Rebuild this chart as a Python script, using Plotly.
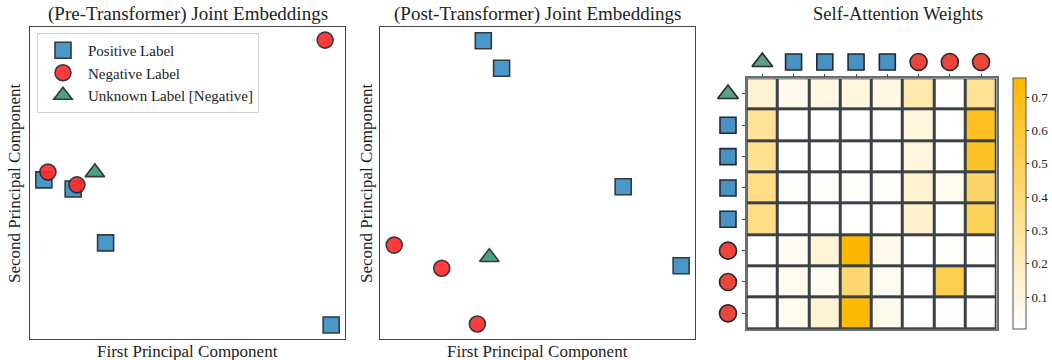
import plotly.graph_objects as go

# ---------------- data ----------------
# Panel 1: pre-transformer embeddings (PC1, PC2 in arbitrary units)
pre_pos_x = [4.4, 13.7, 24.0, 95.6]
pre_pos_y = [51.0, 48.1, 30.8, 4.5]
pre_neg_x = [5.7, 14.9, 93.7]
pre_neg_y = [53.5, 49.4, 95.8]
pre_unk_x = [20.6]
pre_unk_y = [53.4]

# Panel 2: post-transformer embeddings
post_pos_x = [32.8, 38.6, 77.2, 95.6]
post_pos_y = [95.6, 86.8, 48.8, 23.5]
post_neg_x = [4.5, 19.6, 30.9]
post_neg_y = [30.1, 22.7, 4.8]
post_unk_x = [34.7]
post_unk_y = [26.2]

# Panel 3: self-attention weights (rows: query token, cols: key token)
token_types = ["unk", "pos", "pos", "pos", "pos", "neg", "neg", "neg"]
attn = [
    [0.13, 0.06, 0.08, 0.10, 0.08, 0.24, 0.01, 0.32],
    [0.31, 0.004, 0.004, 0.004, 0.004, 0.10, 0.004, 0.66],
    [0.33, 0.004, 0.004, 0.004, 0.004, 0.10, 0.004, 0.64],
    [0.36, 0.02, 0.02, 0.02, 0.02, 0.14, 0.05, 0.44],
    [0.36, 0.004, 0.004, 0.004, 0.004, 0.15, 0.004, 0.50],
    [0.004, 0.04, 0.12, 0.757, 0.06, 0.004, 0.02, 0.01],
    [0.01, 0.05, 0.04, 0.42, 0.04, 0.004, 0.52, 0.004],
    [0.004, 0.05, 0.13, 0.74, 0.06, 0.004, 0.01, 0.01],
]
cbar_ticks = [0.1, 0.2, 0.3, 0.4, 0.5, 0.6, 0.7]

# ---------------- style ----------------
W, H = 1052, 360
FONT = "Liberation Serif"
EDGE = "#23292d"
C_POS, C_NEG, C_UNK = "#3a90c6", "#ff2b2b", "#3c9a7b"
H_POS, H_NEG, H_UNK = "#4a92c4", "#ec463b", "#5a9f86"

def px(x):
    return x / W

def py(y):
    return 1 - y / H

fig = go.Figure()

def add_points(xs, ys, symbol, color, size, name, axis, legend):
    fig.add_trace(go.Scatter(
        x=xs, y=ys, mode="markers", name=name, showlegend=legend,
        xaxis=axis[0], yaxis=axis[1],
        marker=dict(symbol=symbol, size=size, color=color, opacity=0.92,
                    line=dict(color=EDGE, width=1.6)),
        hoverinfo="skip", cliponaxis=False,
    ))

add_points(pre_pos_x, pre_pos_y, "square", C_POS, 16, "Positive Label", ("x", "y"), True)
add_points(pre_neg_x, pre_neg_y, "circle", C_NEG, 16, "Negative Label", ("x", "y"), True)
add_points(pre_unk_x, pre_unk_y, "triangle-up", C_UNK, 17, "Unknown Label [Negative]", ("x", "y"), True)

add_points(post_pos_x, post_pos_y, "square", C_POS, 16, "Positive Label", ("x2", "y2"), False)
add_points(post_neg_x, post_neg_y, "circle", C_NEG, 16, "Negative Label", ("x2", "y2"), False)
add_points(post_unk_x, post_unk_y, "triangle-up", C_UNK, 17, "Unknown Label [Negative]", ("x2", "y2"), False)

# heatmap
n = len(token_types)
idx = list(range(n))
fig.add_trace(go.Heatmap(
    z=attn, x=idx, y=idx, xaxis="x3", yaxis="y3",
    colorscale=[[0, "#ffffff"], [1, "#fcb800"]],
    xgap=3, ygap=3, showscale=True, hoverinfo="skip",
    colorbar=dict(
        x=px(1013), xanchor="left", xpad=0, ypad=0,
        y=py(329), yanchor="bottom",
        len=(329 - 78) / H, lenmode="fraction", thickness=13,
        outlinecolor="#555", outlinewidth=1,
        tickvals=cbar_ticks, ticks="outside", ticklen=3, tickcolor="#333",
        tickfont=dict(family=FONT, size=13, color="#222"),
    ),
))

# token icons: top strip (x4/y4) and left strip (x5/y5)
sym = {"pos": ("square", H_POS, 16), "neg": ("circle", H_NEG, 17), "unk": ("triangle-up", H_UNK, 18)}
for t in ["unk", "pos", "neg"]:
    ids = [i for i, tt in enumerate(token_types) if tt == t]
    s, c, sz = sym[t]
    mk = dict(symbol=s, size=sz, color=c, line=dict(color=EDGE, width=1.6))
    fig.add_trace(go.Scatter(x=ids, y=[0.5] * len(ids), mode="markers", xaxis="x4", yaxis="y4",
                             marker=mk, showlegend=False, cliponaxis=False, hoverinfo="skip"))
    fig.add_trace(go.Scatter(x=[0.5] * len(ids), y=ids, mode="markers", xaxis="x5", yaxis="y5",
                             marker=mk, showlegend=False, cliponaxis=False, hoverinfo="skip"))

frame = dict(showline=True, mirror=True, linecolor="#444", linewidth=1, showgrid=False,
             zeroline=False, showticklabels=False, ticks="")
hidden = dict(visible=False, showgrid=False, zeroline=False)

HX = [px(746.7), px(996.7)]
HY = [py(329), py(78.3)]

fig.update_layout(
    width=W, height=H, margin=dict(l=0, r=0, t=0, b=0, autoexpand=False),
    paper_bgcolor="white", plot_bgcolor="white",
    font=dict(family=FONT, color="#222"),
    xaxis=dict(domain=[px(30), px(345)], range=[0, 100], **frame),
    yaxis=dict(domain=[py(339), py(27)], range=[0, 100], **frame),
    xaxis2=dict(domain=[px(380), px(695)], range=[0, 100], anchor="y2", **frame),
    yaxis2=dict(domain=[py(339), py(27)], range=[0, 100], anchor="x2", **frame),
    xaxis3=dict(domain=HX, range=[-0.5, n - 0.5], anchor="y3", side="top",
                showline=True, mirror=True, linecolor="#6a6f72", linewidth=1.5,
                showgrid=False, zeroline=False, tickvals=idx, ticktext=[""] * n,
                ticks="outside", ticklen=3, tickcolor="#444"),
    yaxis3=dict(domain=HY, range=[n - 0.5, -0.5], anchor="x3",
                showline=True, mirror=True, linecolor="#6a6f72", linewidth=1.5,
                showgrid=False, zeroline=False, tickvals=idx, ticktext=[""] * n,
                ticks="outside", ticklen=3, tickcolor="#444"),
    xaxis4=dict(domain=HX, range=[-0.5, n - 0.5], anchor="y4", **hidden),
    yaxis4=dict(domain=[py(78), py(46)], range=[0, 1], anchor="x4", **hidden),
    xaxis5=dict(domain=[px(710), px(746)], range=[0, 1], anchor="y5", **hidden),
    yaxis5=dict(domain=HY, range=[n - 0.5, -0.5], anchor="x5", **hidden),
    legend=dict(x=px(37), y=py(33), xanchor="left", yanchor="top",
                bgcolor="rgba(255,255,255,0.85)", bordercolor="#d0d0d0", borderwidth=1,
                font=dict(family=FONT, size=15, color="#222"), itemwidth=40,
                tracegroupgap=0),
    shapes=[dict(type="rect", xref="x3", yref="y3", x0=-0.5, x1=n - 0.5, y0=-0.5, y1=n - 0.5,
                 fillcolor="#3b4246", line=dict(width=0), layer="below")],
)

def ann(text, x, y, size, angle=0):
    fig.add_annotation(text=text, x=px(x), y=py(y), xref="paper", yref="paper",
                       showarrow=False, textangle=angle, xanchor="center", yanchor="middle",
                       font=dict(family=FONT, size=size, color="#222"))

ann("(Pre-Transformer) Joint Embeddings", 187.5, 14, 19)
ann("(Post-Transformer) Joint Embeddings", 537.5, 14, 19)
ann("Self-Attention Weights", 898, 14, 18.5)
ann("First Principal Component", 187.5, 351, 17)
ann("First Principal Component", 537.5, 351, 17)
ann("Second Principal Component", 14, 183, 17, -90)
ann("Second Principal Component", 366, 183, 17, -90)

fig.write_html(
    "out.html",
    config={"displayModeBar": False, "responsive": False},
    post_script=(
        "document.documentElement.style.margin='0px';"
        "document.documentElement.style.overflow='hidden';"
        "document.body.style.margin='0px';"
        "document.body.style.overflow='hidden';"
    ),
)
